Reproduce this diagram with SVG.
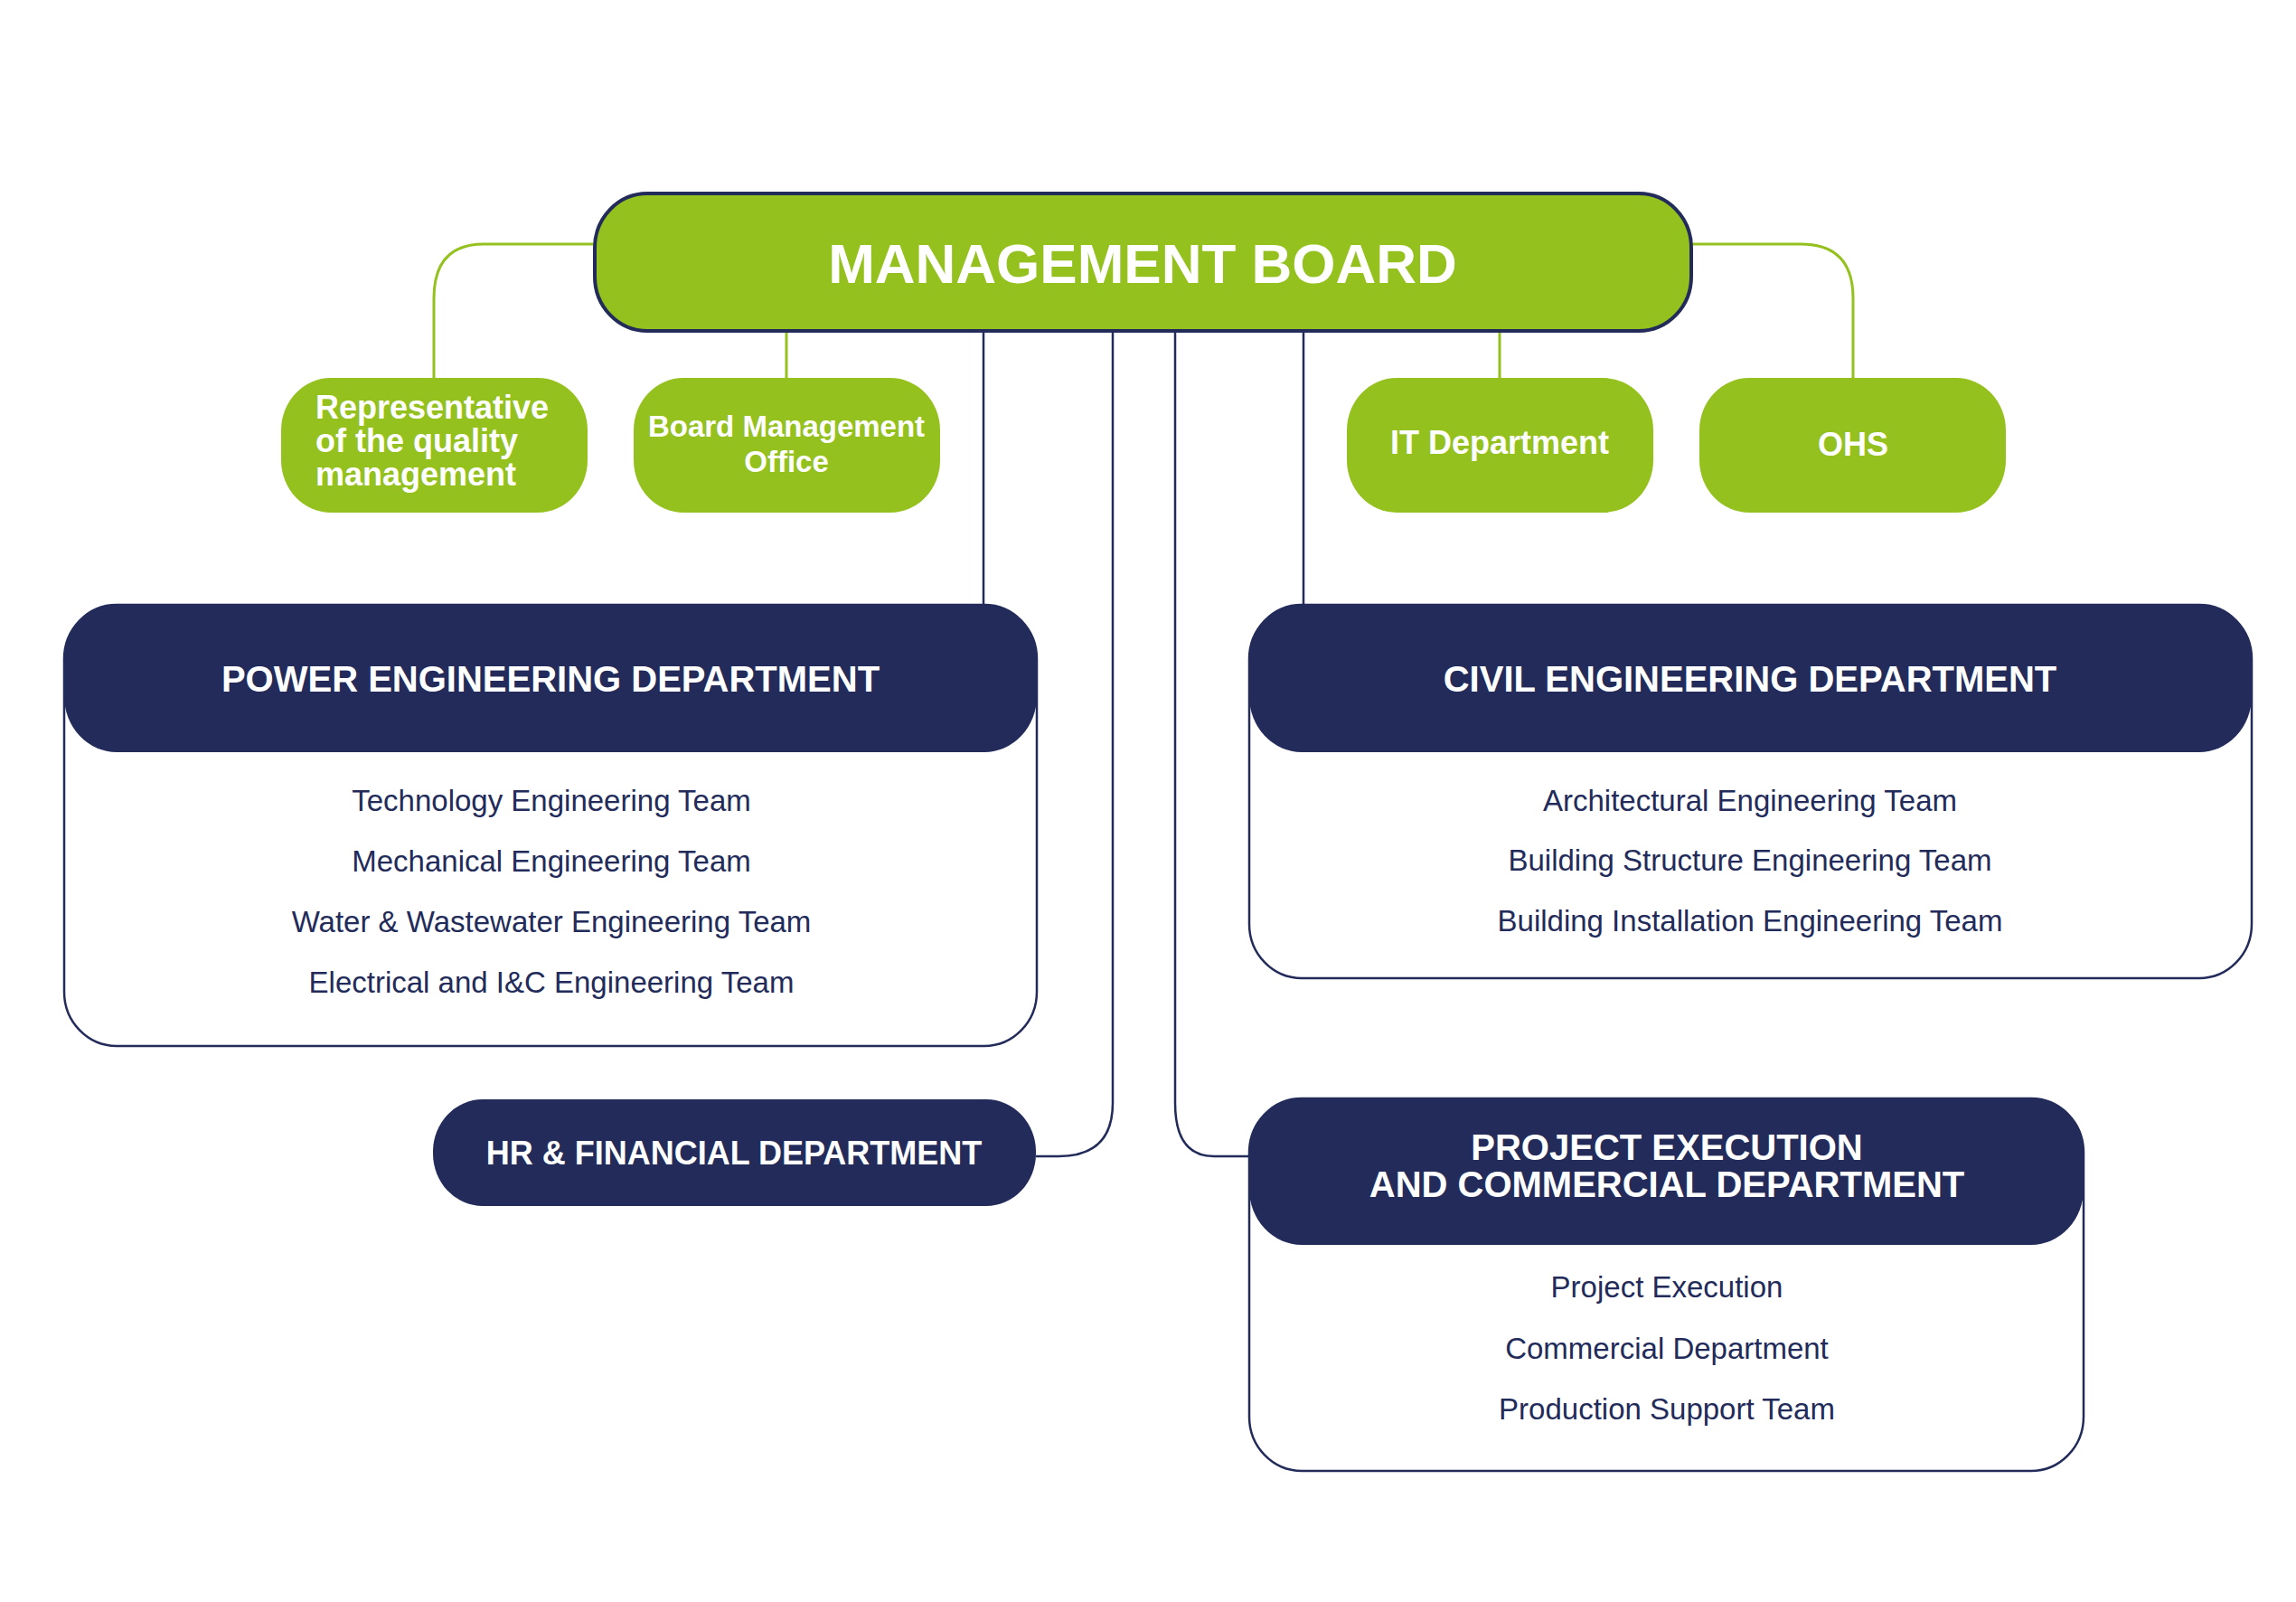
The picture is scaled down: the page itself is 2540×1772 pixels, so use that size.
<svg xmlns="http://www.w3.org/2000/svg" width="2540" height="1772" viewBox="0 0 2540 1772">
<style>
text{font-family:"Liberation Sans",Arial,sans-serif;}
.g{fill:#95C11F;}
.gt{fill:#fff;font-weight:bold;font-size:36px;}
.hd{fill:#222B59;}
.ht{fill:#fff;font-weight:bold;font-size:40px;text-anchor:middle;}
.it{fill:#222B59;font-size:33px;text-anchor:middle;}
.box{fill:#fff;stroke:#222B59;stroke-width:2.5;}
.cg{fill:none;stroke:#95C11F;stroke-width:3;}
.cn{fill:none;stroke:#222B59;stroke-width:2.5;}
</style>
<rect width="2540" height="1772" fill="#fff"/>
<g id="connectors">
<path class="cg" d="M658 270 H535 Q480 270 480 330 V418"/>
<path class="cg" d="M870 366 V418"/>
<path class="cg" d="M1659 366 V418"/>
<path class="cg" d="M1871 270 H1992 Q2050 270 2050 330 V418"/>
<path class="cn" d="M1088 366 V669"/>
<path class="cn" d="M1442 366 V669"/>
<path class="cn" d="M1231 366 V1220 Q1231 1279 1171 1279 H1146"/>
<path class="cn" d="M1300 366 V1220 Q1300 1279 1343 1279 H1382"/>
</g>
<g id="management-board">
<rect x="658" y="214" width="1213" height="152" rx="58" ry="60" class="g" stroke="#222B59" stroke-width="4"/>
<text x="1264" y="313" fill="#fff" font-weight="bold" font-size="62" text-anchor="middle">MANAGEMENT BOARD</text>
</g>
<g id="quality-rep">
<rect x="311" y="418" width="339" height="149" rx="55" ry="58" class="g"/>
<text class="gt" x="349" y="463">Representative</text>
<text class="gt" x="349" y="500">of the quality</text>
<text class="gt" x="349" y="537">management</text>
</g>
<g id="board-office">
<rect x="701" y="418" width="339" height="149" rx="55" ry="58" class="g"/>
<text class="gt" x="870" y="483" text-anchor="middle" style="font-size:33px">Board Management</text>
<text class="gt" x="870" y="522" text-anchor="middle" style="font-size:33px">Office</text>
</g>
<g id="it-dept">
<rect x="1490" y="418" width="339" height="149" rx="55" ry="58" class="g"/>
<text class="gt" x="1659" y="502" text-anchor="middle">IT Department</text>
</g>
<g id="ohs">
<rect x="1880" y="418" width="339" height="149" rx="55" ry="58" class="g"/>
<text class="gt" x="2050" y="504" text-anchor="middle">OHS</text>
</g>
<g id="power-dept">
<rect x="71" y="669" width="1076" height="488" rx="58" ry="60" class="box"/>
<rect x="71" y="669" width="1076" height="163" rx="58" ry="62" class="hd"/>
<text class="ht" x="609" y="765">POWER ENGINEERING DEPARTMENT</text>
<text class="it" x="610" y="897">Technology Engineering Team</text>
<text class="it" x="610" y="964">Mechanical Engineering Team</text>
<text class="it" x="610" y="1031">Water &amp; Wastewater Engineering Team</text>
<text class="it" x="610" y="1098">Electrical and I&amp;C Engineering Team</text>
</g>
<g id="civil-dept">
<rect x="1382" y="669" width="1109" height="413" rx="58" ry="60" class="box"/>
<rect x="1382" y="669" width="1109" height="163" rx="58" ry="62" class="hd"/>
<text class="ht" x="1936" y="765">CIVIL ENGINEERING DEPARTMENT</text>
<text class="it" x="1936" y="897">Architectural Engineering Team</text>
<text class="it" x="1936" y="963">Building Structure Engineering Team</text>
<text class="it" x="1936" y="1030">Building Installation Engineering Team</text>
</g>
<g id="hr-dept">
<rect x="479" y="1216" width="667" height="118" rx="55" ry="58" class="hd"/>
<text class="ht" x="812" y="1288" style="font-size:36px">HR &amp; FINANCIAL DEPARTMENT</text>
</g>
<g id="project-dept">
<rect x="1382" y="1215" width="923" height="412" rx="58" ry="60" class="box"/>
<rect x="1382" y="1215" width="923" height="162" rx="58" ry="62" class="hd"/>
<text class="ht" x="1844" y="1283">PROJECT EXECUTION</text>
<text class="ht" x="1844" y="1324">AND COMMERCIAL DEPARTMENT</text>
<text class="it" x="1844" y="1435">Project Execution</text>
<text class="it" x="1844" y="1503">Commercial Department</text>
<text class="it" x="1844" y="1570">Production Support Team</text>
</g>
</svg>
